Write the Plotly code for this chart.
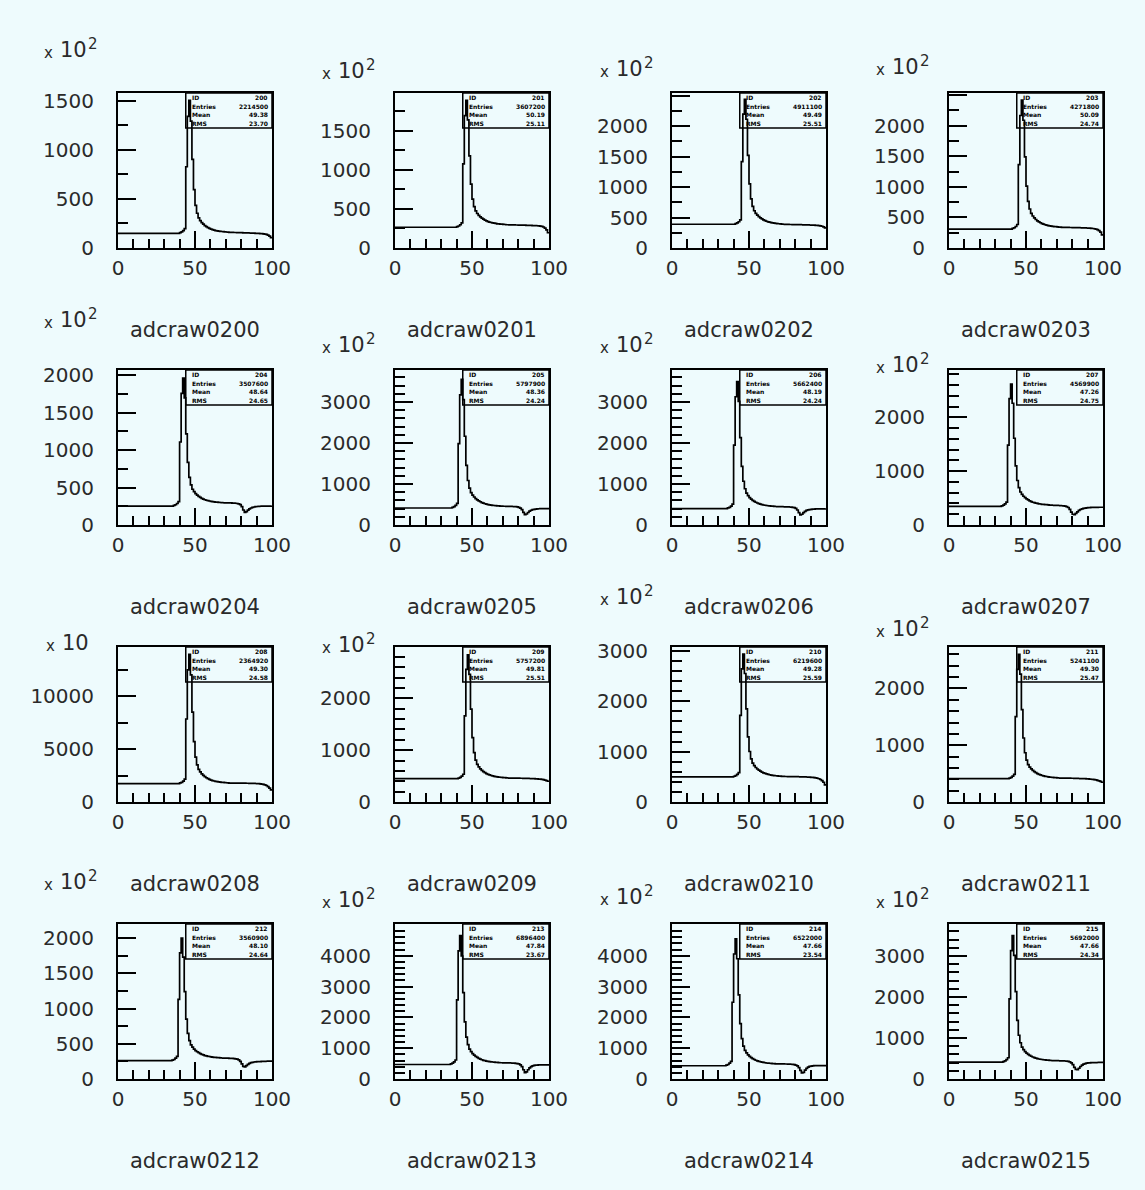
import math
import plotly.graph_objects as go

# ---------------- data (bins of width 1 on 0..100) ----------------
titles = ["adcraw0200", "adcraw0201", "adcraw0202", "adcraw0203",
          "adcraw0204", "adcraw0205", "adcraw0206", "adcraw0207",
          "adcraw0208", "adcraw0209", "adcraw0210", "adcraw0211",
          "adcraw0212", "adcraw0213", "adcraw0214", "adcraw0215"]

# exponent shown above each y axis (values below are in these units)
exponents = [2, 2, 2, 2, 2, 2, 2, 2, 1, 2, 2, 2, 2, 2, 2, 2]
y_max = [1580, 1980, 2545, 2535, 2067, 3780, 3780, 2880,
         14670, 2990, 3080, 2730, 2200, 5030, 5030, 3780]
y_major = [500, 500, 500, 500, 500, 1000, 1000, 1000,
           5000, 1000, 1000, 1000, 500, 1000, 1000, 1000]
y_minor = [250, 250, 250, 250, 250, 200, 200, 200,
           2500, 200, 200, 200, 250, 200, 200, 200]
# top tick labels that the reference leaves unlabelled
y_hidden = [None, None, "2500", "2500", None, None, None, None,
            None, None, None, None, None, "5000", "5000", None]

h0200 = [150, 150, 150, 150, 150, 150, 150, 150, 150, 150,
         150, 150, 150, 150, 150, 150, 150, 150, 150, 150,
         150, 150, 150, 150, 150, 150, 150, 150, 150, 150,
         150, 150, 150, 150, 150, 150, 150, 150, 150, 150,
         157, 164, 177, 197, 828, 1342, 1505,
         1294, 904, 596, 435, 354, 307, 280, 259, 243, 229, 218, 208, 200,
         192, 187, 183, 178, 175, 173, 169, 168, 166, 164, 163, 161,
         160, 159, 159, 158, 158, 157, 157, 156, 156, 155,
         155, 154, 154, 153, 152, 152, 151, 150, 150, 149,
         147, 146, 144, 142, 138, 131, 121, 105]
h0201 = [265, 265, 265, 265, 265, 265, 265, 265, 265, 265,
         265, 265, 265, 265, 265, 265, 265, 265, 265, 265,
         265, 265, 265, 265, 265, 265, 265, 265, 265, 265,
         265, 265, 265, 265, 265, 265, 265, 265, 265, 265,
         273, 281, 297, 322, 1075, 1691, 1885,
         1637, 1178, 815, 624, 529, 473, 441, 417, 398, 381, 368, 356, 347,
         338, 331, 326, 321, 317, 314, 309, 308, 305, 304, 301, 300,
         297, 297, 296, 296, 295, 295, 294, 294, 293, 293,
         292, 292, 291, 290, 290, 289, 288, 287, 286, 285,
         284, 282, 279, 275, 268, 255, 232, 195]
h0202 = [390, 390, 390, 390, 390, 390, 390, 390, 390, 390,
         390, 390, 390, 390, 390, 390, 390, 390, 390, 390,
         390, 390, 390, 390, 390, 390, 390, 390, 390, 390,
         390, 390, 390, 390, 390, 390, 390, 390, 390, 390, 390,
         400, 411, 431, 462, 1418, 2198, 2440,
         2114, 1522, 1052, 807, 684, 612, 570, 540, 514, 494, 477, 462, 449,
         439, 430, 424, 416, 412, 407, 403, 400, 398, 395, 393, 390,
         388, 387, 387, 386, 386, 385, 385, 384, 384, 383,
         383, 382, 381, 381, 380, 379, 378, 377, 376, 375,
         373, 371, 368, 364, 357, 347, 330]
h0203 = [310, 310, 310, 310, 310, 310, 310, 310, 310, 310,
         310, 310, 310, 310, 310, 310, 310, 310, 310, 310,
         310, 310, 310, 310, 310, 310, 310, 310, 310, 310,
         310, 310, 310, 310, 310, 310, 310, 310, 310, 310, 310,
         321, 331, 352, 384, 1365, 2167, 2420,
         2089, 1489, 1011, 763, 638, 565, 523, 492, 466, 445, 428, 413, 400,
         390, 380, 374, 367, 363, 358, 353, 350, 348, 345, 343, 340,
         338, 337, 337, 336, 336, 335, 335, 334, 334, 333,
         333, 332, 331, 330, 329, 328, 327, 326, 324, 322,
         319, 315, 309, 299, 283, 258, 215]
h0204 = [253, 253, 253, 253, 253, 253, 253, 253, 253, 253,
         253, 253, 253, 253, 253, 253, 253, 253, 253, 253,
         253, 253, 253, 253, 253, 253, 253, 253, 253, 253,
         253, 253, 253, 253, 253, 253,
         262, 270, 287, 313, 1107, 1755, 1960,
         1695, 1215, 834, 635, 536, 477, 444, 419, 398, 381, 368, 356, 346,
         337, 330, 325, 320, 316, 312, 309, 306, 305, 303, 300, 299,
         297, 296, 296, 295, 295, 294, 293, 292, 290, 287,
         282, 272, 245, 200, 168, 178, 198, 215, 227, 235,
         240, 244, 247, 249, 250, 251, 252, 252, 253, 253,
         252, 250]
h0205 = [415, 415, 415, 415, 415, 415, 415, 415, 415, 415,
         415, 415, 415, 415, 415, 415, 415, 415, 415, 415,
         415, 415, 415, 415, 415, 415, 415, 415, 415, 415,
         415, 415, 415, 415, 415, 415, 415,
         431, 446, 478, 525, 1983, 3174, 3550,
         3057, 2164, 1455, 1085, 899, 791, 729, 683, 645, 614, 588, 567, 547,
         532, 518, 509, 499, 493, 486, 479, 475, 472, 468, 465, 461,
         458, 457, 457, 456, 455, 454, 453, 451, 449, 446,
         441, 432, 413, 375, 310, 250, 268, 305, 338, 360,
         374, 383, 389, 393, 396, 398, 399, 400, 400, 399,
         397]
h0206 = [400, 400, 400, 400, 400, 400, 400, 400, 400, 400,
         400, 400, 400, 400, 400, 400, 400, 400, 400, 400,
         400, 400, 400, 400, 400, 400, 400, 400, 400, 400,
         400, 400, 400, 400, 400, 400,
         416, 431, 462, 509, 1950, 3128, 3500,
         3014, 2132, 1432, 1067, 884, 777, 715, 670, 632, 602, 577, 555, 536,
         521, 508, 499, 488, 482, 475, 469, 465, 462, 458, 455, 451,
         448, 447, 447, 446, 445, 444, 443, 441, 439, 436,
         431, 422, 404, 366, 300, 245, 262, 300, 333, 355,
         368, 377, 383, 387, 389, 391, 392, 393, 393, 393,
         392, 390]
h0207 = [345, 345, 345, 345, 345, 345, 345, 345, 345, 345,
         345, 345, 345, 345, 345, 345, 345, 345, 345, 345,
         345, 345, 345, 345, 345, 345, 345, 345, 345, 345,
         345, 345, 345, 345,
         356, 368, 391, 425, 1483, 2347, 2620,
         2262, 1612, 1097, 827, 693, 613, 568, 534, 507, 484, 466, 449, 435,
         423, 414, 407, 400, 394, 390, 384, 382, 379, 377, 373, 371,
         368, 367, 366, 365, 364, 362, 360, 358, 355, 350,
         342, 325, 290, 240, 200, 190, 215, 245, 270, 288,
         300, 309, 315, 319, 322, 324, 326, 327, 328, 329,
         329, 330, 330, 330]
h0208 = [1740, 1740, 1740, 1740, 1740, 1740, 1740, 1740, 1740, 1740,
         1740, 1740, 1740, 1740, 1740, 1740, 1740, 1740, 1740, 1740,
         1740, 1740, 1740, 1740, 1740, 1740, 1740, 1740, 1740, 1740,
         1740, 1740, 1740, 1740, 1740, 1740, 1740, 1740, 1740, 1740,
         1801, 1862, 1985, 2168, 7855, 12502, 13970,
         12026, 8502, 5706, 4247, 3517, 3091, 2847, 2664, 2517, 2394, 2296, 2210, 2136,
         2074, 2025, 1987, 1950, 1925, 1899, 1874, 1861, 1848, 1834, 1821, 1808,
         1795, 1793, 1792, 1790, 1789, 1787, 1786, 1784, 1782, 1780,
         1778, 1776, 1773, 1770, 1767, 1763, 1758, 1752, 1745, 1735,
         1720, 1700, 1670, 1625, 1560, 1460, 1320, 1140]
h0209 = [450, 450, 450, 450, 450, 450, 450, 450, 450, 450,
         450, 450, 450, 450, 450, 450, 450, 450, 450, 450,
         450, 450, 450, 450, 450, 450, 450, 450, 450, 450,
         450, 450, 450, 450, 450, 450, 450, 450, 450, 450, 450,
         462, 474, 498, 535, 1660, 2560, 2840,
         2460, 1792, 1240, 953, 808, 724, 676, 640, 610, 586, 566, 549, 534,
         522, 511, 504, 496, 491, 485, 480, 477, 475, 471, 469, 465,
         463, 462, 462, 461, 461, 460, 460, 459, 458, 458,
         457, 456, 455, 454, 453, 452, 451, 450, 448, 446,
         443, 440, 436, 430, 422, 412, 400]
h0210 = [500, 500, 500, 500, 500, 500, 500, 500, 500, 500,
         500, 500, 500, 500, 500, 500, 500, 500, 500, 500,
         500, 500, 500, 500, 500, 500, 500, 500, 500, 500,
         500, 500, 500, 500, 500, 500, 500, 500, 500, 500,
         512, 524, 549, 585, 1720, 2647, 2940,
         2553, 1851, 1293, 1003, 857, 772, 723, 686, 656, 632, 612, 595, 579,
         567, 557, 549, 541, 536, 530, 526, 522, 520, 516, 514, 510,
         508, 507, 507, 506, 506, 505, 505, 504, 503, 503,
         502, 501, 500, 499, 498, 497, 495, 493, 491, 488,
         484, 479, 472, 462, 447, 425, 392, 340]
h0211 = [410, 410, 410, 410, 410, 410, 410, 410, 410, 410,
         410, 410, 410, 410, 410, 410, 410, 410, 410, 410,
         410, 410, 410, 410, 410, 410, 410, 410, 410, 410,
         410, 410, 410, 410, 410, 410, 410, 410, 410,
         421, 432, 454, 487, 1505, 2337, 2600,
         2254, 1626, 1127, 867, 736, 660, 616, 584, 557, 535, 517, 501, 487,
         477, 467, 460, 453, 449, 443, 439, 436, 434, 430, 428, 425,
         423, 422, 422, 421, 421, 420, 420, 419, 418, 418,
         417, 416, 415, 414, 413, 412, 411, 410, 408, 406,
         404, 401, 398, 394, 389, 382, 373, 362, 348]
h0212 = [260, 260, 260, 260, 260, 260, 260, 260, 260, 260,
         260, 260, 260, 260, 260, 260, 260, 260, 260, 260,
         260, 260, 260, 260, 260, 260, 260, 260, 260, 260,
         260, 260, 260, 260, 260,
         269, 277, 295, 321, 1130, 1791, 2000,
         1730, 1240, 850, 647, 545, 485, 451, 425, 404, 387, 373, 361, 350,
         341, 333, 328, 322, 319, 315, 311, 308, 307, 304, 302, 300,
         298, 297, 297, 296, 295, 294, 293, 292, 290, 287,
         282, 272, 250, 215, 180, 172, 190, 208, 222, 231,
         237, 241, 244, 246, 247, 248, 249, 250, 251, 252,
         253, 254, 255]
h0213 = [470, 470, 470, 470, 470, 470, 470, 470, 470, 470,
         470, 470, 470, 470, 470, 470, 470, 470, 470, 470,
         470, 470, 470, 470, 470, 470, 470, 470, 470, 470,
         470, 470, 470, 470, 470, 470,
         491, 512, 554, 617, 2565, 4157, 4650,
         3992, 2801, 1854, 1361, 1113, 970, 886, 825, 774, 733, 699, 671, 645,
         624, 607, 595, 581, 573, 564, 556, 551, 546, 541, 537, 532,
         528, 527, 526, 525, 524, 523, 522, 520, 518, 515,
         510, 502, 488, 460, 400, 300, 210, 230, 300, 360,
         400, 425, 440, 448, 453, 456, 458, 459, 460, 460,
         460, 460]
h0214 = [430, 430, 430, 430, 430, 430, 430, 430, 430, 430,
         430, 430, 430, 430, 430, 430, 430, 430, 430, 430,
         430, 430, 430, 430, 430, 430, 430, 430, 430, 430,
         430, 430, 430, 430, 430,
         451, 471, 512, 574, 2490, 4056, 4550,
         3903, 2730, 1798, 1313, 1069, 928, 846, 785, 736, 695, 662, 633, 608,
         588, 571, 559, 546, 537, 528, 520, 515, 511, 506, 502, 497,
         493, 492, 491, 490, 489, 488, 487, 486, 484, 482,
         479, 474, 466, 452, 425, 370, 280, 195, 215, 285,
         345, 385, 408, 420, 427, 431, 433, 434, 435, 435,
         435, 435, 434]
h0215 = [410, 410, 410, 410, 410, 410, 410, 410, 410, 410,
         410, 410, 410, 410, 410, 410, 410, 410, 410, 410,
         410, 410, 410, 410, 410, 410, 410, 410, 410, 410,
         410, 410, 410, 410, 410,
         425, 441, 472, 518, 1955, 3129, 3500,
         3014, 2132, 1432, 1067, 884, 777, 715, 670, 632, 602, 577, 555, 536,
         521, 508, 499, 488, 482, 475, 469, 465, 462, 458, 455, 451,
         448, 447, 447, 446, 445, 444, 443, 441, 439, 436,
         430, 418, 395, 350, 285, 235, 228, 262, 305, 340,
         362, 376, 385, 391, 395, 397, 399, 400, 401, 402,
         403, 404, 405]

histos = [h0200, h0201, h0202, h0203, h0204, h0205, h0206, h0207,
          h0208, h0209, h0210, h0211, h0212, h0213, h0214, h0215]
for h in histos:
    assert len(h) == 100, len(h)

bin_edges = list(range(101))

# ---------------- figure ----------------
W, H = 1145, 1190
BG = "#eefbfd"
INK = "#2a2a2a"
FONT = "DejaVu Sans"

# centre of the "10" of each "x 10^n" label (pixels)
exp_pos = [(73, 50), (351, 71), (629, 69), (905, 67),
           (73, 320), (351, 345), (629, 345), (905, 365),
           (75, 643), (351, 645), (629, 597), (905, 629),
           (73, 882), (351, 900), (629, 897), (905, 900)]

fig = go.Figure()
layout = dict(width=W, height=H, autosize=False,
              margin=dict(l=0, r=0, t=0, b=0, pad=0, autoexpand=False),
              paper_bgcolor=BG, plot_bgcolor=BG, showlegend=False,
              font=dict(family=FONT, color=INK))
annotations = []
shapes = []


def paper_text(px, py, text, size, color=INK):
    annotations.append(dict(xref="paper", yref="paper", x=px / W, y=1 - py / H,
                            text=text, showarrow=False, xanchor="center",
                            yanchor="middle", font=dict(family=FONT, size=size, color=color)))


for k, vals in enumerate(histos):
    r, c = divmod(k, 4)
    sfx = "" if k == 0 else str(k + 1)
    xl, xr = 118 + 277 * c, 272 + 277 * c
    yt, yb = 93 + 277 * r, 248 + 277 * r

    layout["xaxis" + sfx] = dict(
        domain=[xl / W, xr / W], anchor="y" + sfx, range=[0, 100],
        tickmode="linear", tick0=0, dtick=50, automargin=False,
        ticks="inside", ticklen=17, tickwidth=1.5, tickcolor="black",
        minor=dict(tickmode="linear", tick0=0, dtick=10, ticks="inside",
                   ticklen=9, tickwidth=1.5, tickcolor="black"),
        showline=True, linecolor="black", linewidth=2, mirror=True,
        showgrid=False, zeroline=False, ticklabelstandoff=1,
        tickfont=dict(family=FONT, size=20, color=INK), fixedrange=True)
    yax = dict(
        domain=[1 - yb / H, 1 - yt / H], anchor="x" + sfx,
        range=[0, y_max[k]], tickmode="linear", tick0=0, dtick=y_major[k],
        tickformat="d", automargin=False,
        ticks="inside", ticklen=18, tickwidth=1.5, tickcolor="black",
        minor=dict(tickmode="linear", tick0=0, dtick=y_minor[k], ticks="inside",
                   ticklen=10, tickwidth=1.5, tickcolor="black"),
        showline=True, linecolor="black", linewidth=2, mirror=True,
        showgrid=False, zeroline=False, ticklabelstandoff=18,
        tickfont=dict(family=FONT, size=20, color=INK), fixedrange=True)
    if y_hidden[k]:
        yax["labelalias"] = {y_hidden[k]: " "}
    layout["yaxis" + sfx] = yax

    fig.add_trace(go.Scatter(
        x=bin_edges, y=vals + [vals[-1]], xaxis="x" + sfx, yaxis="y" + sfx,
        mode="lines", line=dict(color="black", width=1.7, shape="hv"),
        hoverinfo="skip"))

    # statistics box (top right)
    xd, yd = "x" + sfx + " domain", "y" + sfx + " domain"
    shapes.append(dict(type="rect", xref=xd, yref=yd, x0=0.44, x1=1.0,
                       y0=0.775, y1=1.0, line=dict(color="black", width=1.5),
                       fillcolor="rgba(0,0,0,0)", layer="above"))
    scale = 10 ** exponents[k]
    tot = sum(vals)
    mean = sum((i + 0.5) * v for i, v in enumerate(vals)) / tot
    rms = math.sqrt(sum(((i + 0.5) - mean) ** 2 * v for i, v in enumerate(vals)) / tot)
    stats = [("ID", titles[k][-3:]), ("Entries", str(int(tot * scale))),
             ("Mean", f"{mean:.2f}"), ("RMS", f"{rms:.2f}")]
    for j, (lab, val) in enumerate(stats):
        yy = 1 - 0.225 * (j + 0.5) / 4
        annotations.append(dict(xref=xd, yref=yd, x=0.465, y=yy, text=lab,
                                showarrow=False, xanchor="left", yanchor="middle",
                                font=dict(family=FONT, size=6, color="black", weight="bold")))
        annotations.append(dict(xref=xd, yref=yd, x=0.985, y=yy, text=val,
                                showarrow=False, xanchor="right", yanchor="middle",
                                font=dict(family=FONT, size=6, color="black", weight="bold")))

    # histogram title below the axis
    paper_text((xl + xr) / 2, 330 + 277 * r, titles[k], 21)

    # exponent label "x 10^n" (three pieces)
    tx, ty = exp_pos[k]
    paper_text(tx - 25, ty + 3, "x", 15)
    paper_text(tx, ty, "10", 21)
    if exponents[k] != 1:
        paper_text(tx + 20, ty - 6, str(exponents[k]), 15)

layout["annotations"] = annotations
layout["shapes"] = shapes
fig.update_layout(**layout)
fig.write_html("out.html")
